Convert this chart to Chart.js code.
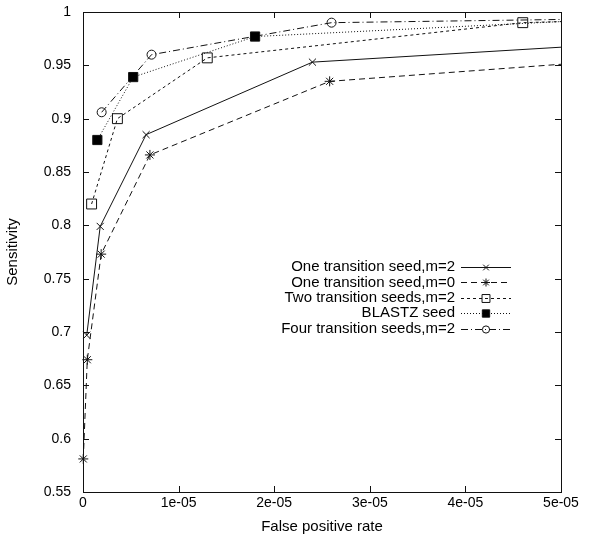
<!DOCTYPE html>
<html>
<head>
<meta charset="utf-8">
<script src="https://cdn.jsdelivr.net/npm/chart.js@4/dist/chart.umd.min.js"></script>
<style>
  html, body { margin: 0; padding: 0; background: #fff; }
  #wrap { width: 600px; height: 537px; }
</style>
</head>
<body>
<div id="wrap"><canvas id="myChart" width="600" height="537"></canvas></div>
<script>
// data

const seriesNames = [
  'One transition seed,m=2',
  'One transition seed,m=0',
  'Two transition seeds,m=2',
  'BLASTZ seed',
  'Four transition seeds,m=2'
];

const fpr_one_m2 = [3.9e-7, 1.8e-6, 6.6e-6, 2.40e-5, 5e-5];
const sens_one_m2 = [0.697, 0.799, 0.885, 0.953, 0.967];

const fpr_one_m0 = [3e-8, 4.5e-7, 1.9e-6, 7.0e-6, 2.58e-5, 5e-5];
const sens_one_m0 = [0.581, 0.674, 0.773, 0.866, 0.935, 0.951];

const fpr_two_m2 = [9e-7, 3.6e-6, 1.30e-5, 4.60e-5, 5e-5];
const sens_two_m2 = [0.820, 0.900, 0.957, 0.990, 0.991];

const fpr_blastz = [1.5e-6, 5.25e-6, 1.80e-5, 5e-5];
const sens_blastz = [0.880, 0.939, 0.977, 0.991];

const fpr_four_m2 = [1.95e-6, 7.17e-6, 2.60e-5, 5e-5];
const sens_four_m2 = [0.906, 0.960, 0.990, 0.993];

const xTicks = [0, 1e-5, 2e-5, 3e-5, 4e-5, 5e-5];
const yTicks = [0.55, 0.6, 0.65, 0.7, 0.75, 0.8, 0.85, 0.9, 0.95, 1];

const FONT = "'Liberation Sans', Arial, Helvetica, sans-serif";

function toPoints(xs, ys) {
  return xs.map((x, i) => ({ x: x, y: ys[i] }));
}

// last point of each series only continues the line to the right edge
function radii(xs, r) {
  return xs.map((x, i) => (i === xs.length - 1 ? 0 : r));
}

function makeSet(idx, xs, ys, style, dash, r, fill) {
  return {
    label: seriesNames[idx],
    data: toPoints(xs, ys),
    borderColor: '#111',
    borderWidth: 1,
    borderDash: dash,
    pointStyle: style,
    pointRadius: radii(xs, r),
    pointHoverRadius: radii(xs, r),
    pointBorderColor: '#111',
    pointBorderWidth: 1,
    pointBackgroundColor: fill,
    showLine: true,
    tension: 0,
    clip: 12
  };
}

const datasets = [
  makeSet(0, fpr_one_m2, sens_one_m2, 'crossRot', [], 5, '#111'),
  makeSet(1, fpr_one_m0, sens_one_m0, 'star', [6, 4], 5, '#111'),
  makeSet(2, fpr_two_m2, sens_two_m2, 'rect', [3, 3], 7, 'rgba(255,255,255,0)'),
  makeSet(3, fpr_blastz, sens_blastz, 'rect', [1, 2], 6.5, '#000'),
  makeSet(4, fpr_four_m2, sens_four_m2, 'circle', [7, 3, 1, 3], 4.5, 'rgba(255,255,255,0)')
];

// gnuplot style frame with inward ticks, plus right aligned key
const framePlugin = {
  id: 'frame',
  afterDraw(chart) {
    const ctx = chart.ctx;
    const a = chart.chartArea;
    const xs = chart.scales.x, ys = chart.scales.y;
    ctx.save();
    ctx.strokeStyle = '#111';
    ctx.lineWidth = 1;
    ctx.setLineDash([]);
    ctx.strokeRect(Math.round(a.left) + 0.5, Math.round(a.top) + 0.5,
      Math.round(a.right - a.left), Math.round(a.bottom - a.top));
    ctx.beginPath();
    xTicks.forEach(v => {
      const px = Math.round(xs.getPixelForValue(v)) + 0.5;
      ctx.moveTo(px, a.bottom); ctx.lineTo(px, a.bottom - 6);
      ctx.moveTo(px, a.top); ctx.lineTo(px, a.top + 6);
    });
    yTicks.forEach(v => {
      const py = Math.round(ys.getPixelForValue(v)) + 0.5;
      ctx.moveTo(a.left, py); ctx.lineTo(a.left + 6, py);
      ctx.moveTo(a.right, py); ctx.lineTo(a.right - 6, py);
    });
    ctx.stroke();

    // key
    const textRight = 455, sx0 = 461, sx1 = 511;
    ctx.font = '15px ' + FONT;
    ctx.textAlign = 'right';
    ctx.textBaseline = 'middle';
    ctx.fillStyle = '#000';
    chart.data.datasets.forEach((ds, i) => {
      const y = 267 + i * 15.4;
      ctx.fillText(ds.label, textRight, y);
      ctx.beginPath();
      ctx.setLineDash(ds.borderDash);
      ctx.strokeStyle = ds.borderColor;
      ctx.moveTo(sx0, Math.round(y) + 0.5);
      ctx.lineTo(sx1, Math.round(y) + 0.5);
      ctx.stroke();
      ctx.setLineDash([]);
      const r = ds.pointRadius[0] * 0.8;
      ctx.fillStyle = ds.pointBackgroundColor;
      Chart.helpers.drawPoint(ctx, {
        pointStyle: ds.pointStyle, radius: r, rotation: 0, borderWidth: 1
      }, (sx0 + sx1) / 2, Math.round(y) + 0.5);
      ctx.fillStyle = '#000';
    });
    ctx.restore();
  }
};

const ctx = document.getElementById('myChart').getContext('2d');
const myChart = new Chart(ctx, {
  type: 'scatter',
  data: { datasets: datasets },
  options: {
    responsive: false,
    animation: false,
    layout: { padding: { top: 12, right: 39, left: 0, bottom: 0 } },
    plugins: { legend: { display: false }, tooltip: { enabled: false } },
    scales: {
      x: {
        type: 'linear',
        min: 0, max: 5e-5,
        afterBuildTicks: s => { s.ticks = xTicks.map(v => ({ value: v })); },
        afterFit: s => { s.height = 45; s.paddingLeft = 0; s.paddingRight = 0; },
        grid: { display: false, drawTicks: false },
        border: { display: false },
        ticks: {
          padding: 3,
          color: '#000',
          font: { family: FONT, size: 14 },
          maxRotation: 0,
          callback: v => {
            const n = Math.round(v * 1e5);
            return n === 0 ? '0' : n + 'e-05';
          }
        },
        title: {
          display: true,
          text: 'False positive rate',
          color: '#000',
          font: { family: FONT, size: 15 },
          padding: { top: 4, bottom: 1 }
        }
      },
      y: {
        type: 'linear',
        min: 0.55, max: 1,
        afterBuildTicks: s => { s.ticks = yTicks.map(v => ({ value: v })); },
        afterFit: s => { s.width = 83; s.paddingTop = 0; s.paddingBottom = 0; },
        grid: { display: false, drawTicks: false },
        border: { display: false },
        ticks: {
          padding: 12,
          color: '#000',
          font: { family: FONT, size: 14 },
          callback: v => String(parseFloat(v.toFixed(2)))
        },
        title: {
          display: true,
          text: 'Sensitivity',
          color: '#000',
          font: { family: FONT, size: 15 },
          padding: { top: 4, bottom: 4 }
        }
      }
    }
  },
  plugins: [framePlugin]
});
</script>
</body>
</html>
